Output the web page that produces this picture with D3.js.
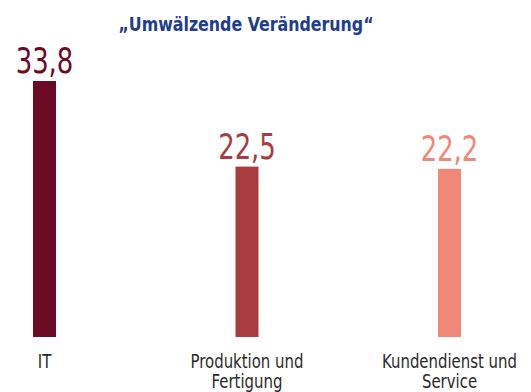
<!DOCTYPE html>
<html>
<head>
<meta charset="utf-8">
<script src="https://cdn.jsdelivr.net/npm/d3@7"></script>
<style>
  html, body { margin: 0; padding: 0; background: #fff; }
  svg { display: block; }
  text { font-family: 'DejaVu Sans Condensed', 'DejaVu Sans', sans-serif; font-stretch: condensed; }
</style>
</head>
<body>
<svg id="chart" width="531" height="392"></svg>
<script>
const title = "„Umwälzende Veränderung“";
const categories = [["IT"], ["Produktion und", "Fertigung"], ["Kundendienst und", "Service"]];
const values = [33.8, 22.5, 22.2];
const colors = ["#6c0a23", "#a93c3e", "#f18777"];

const svg = d3.select("#chart");

const keys = categories.map(c => c.join(" "));
const x = d3.scalePoint().domain(keys).range([44.5, 449.5]);
const y = d3.scaleLinear().domain([0, 33.8]).range([337, 81]);
const barW = 23;
const fmt = v => d3.format(".1f")(v).replace(".", ",");

// horizontal squeeze to get a narrow display face out of DejaVu Condensed
const squeeze = (cx, cy, s) => `translate(${cx},${cy}) scale(${s},1)`;

const data = keys.map((k, i) => ({ key: k, lines: categories[i], value: values[i], color: colors[i] }));

svg.append("text")
  .attr("transform", squeeze(246, 30.5, 0.88))
  .attr("text-anchor", "middle")
  .attr("font-weight", "bold")
  .attr("font-size", 20)
  .attr("fill", "#1e3d8c")
  .text(title);

svg.selectAll("rect.bar").data(data).join("rect")
  .attr("class", "bar")
  .attr("x", d => x(d.key) - barW / 2)
  .attr("y", d => y(d.value))
  .attr("width", barW)
  .attr("height", d => y(0) - y(d.value))
  .attr("fill", d => d.color);

svg.selectAll("text.val").data(data).join("text")
  .attr("class", "val")
  .attr("transform", d => squeeze(x(d.key), y(d.value) - 8, 0.8))
  .attr("text-anchor", "middle")
  .attr("font-size", 36)
  .attr("fill", d => d.color)
  .text(d => fmt(d.value));

const cat = svg.selectAll("text.cat").data(data).join("text")
  .attr("class", "cat")
  .attr("transform", d => squeeze(x(d.key), 367.5, 0.83))
  .attr("text-anchor", "middle")
  .attr("font-size", 20)
  .attr("fill", "#2b2b2b");
cat.selectAll("tspan").data(d => d.lines).join("tspan")
  .attr("x", 0)
  .attr("y", (d, i) => i * 21)
  .text(d => d);
</script>
</body>
</html>
